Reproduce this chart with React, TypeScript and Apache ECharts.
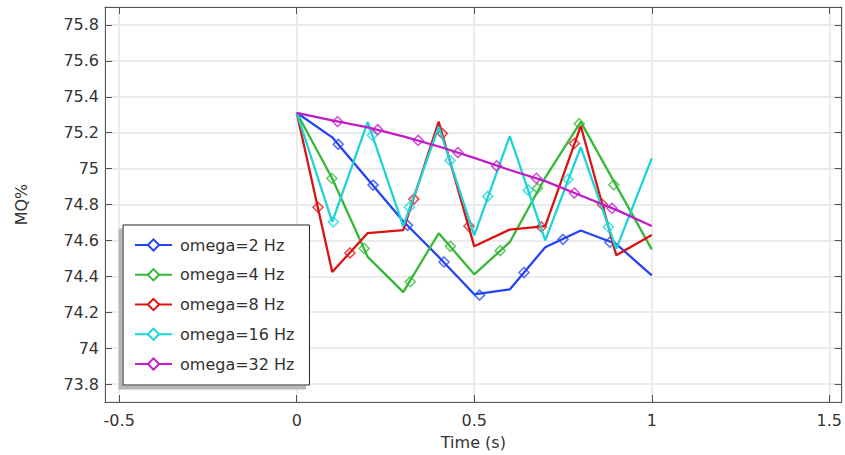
import React, { useEffect, useRef } from "react";
import * as echarts from "echarts";

const timeValues = [0, 0.1, 0.2, 0.3, 0.4, 0.5, 0.6, 0.7, 0.8, 0.9, 1.0];

const omega2Values = [75.311, 75.174, 74.94, 74.707, 74.508, 74.3, 74.327, 74.562, 74.655, 74.58, 74.405];
const omega4Values = [75.311, 74.945, 74.508, 74.312, 74.64, 74.411, 74.59, 74.95, 75.26, 74.905, 74.55];
const omega8Values = [75.311, 74.424, 74.641, 74.657, 75.261, 74.567, 74.66, 74.68, 75.237, 74.517, 74.63];
const omega16Values = [75.311, 74.703, 75.26, 74.68, 75.233, 74.628, 75.181, 74.6, 75.12, 74.553, 75.057];
const omega32Values = [75.311, 75.268, 75.23, 75.18, 75.123, 75.06, 74.992, 74.93, 74.85, 74.77, 74.68];

// marker positions (time, value)
const omega2Markers = [[0.117, 75.135], [0.215, 74.908], [0.312, 74.684], [0.415, 74.48], [0.515, 74.295], [0.64, 74.421], [0.75, 74.606], [0.882, 74.59]];
const omega4Markers = [[0.099, 74.945], [0.19, 74.555], [0.32, 74.37], [0.433, 74.567], [0.573, 74.543], [0.678, 74.89], [0.796, 75.25], [0.893, 74.91]];
const omega8Markers = [[0.06, 74.785], [0.15, 74.53], [0.33, 74.83], [0.41, 75.195], [0.485, 74.68], [0.689, 74.675], [0.782, 75.14], [0.861, 74.8]];
const omega16Markers = [[0.103, 74.703], [0.213, 75.186], [0.317, 74.785], [0.432, 75.045], [0.538, 74.845], [0.652, 74.88], [0.764, 74.94], [0.878, 74.675]];
const omega32Markers = [[0.115, 75.262], [0.228, 75.217], [0.342, 75.157], [0.454, 75.089], [0.563, 75.015], [0.675, 74.946], [0.782, 74.864], [0.888, 74.779]];

const seriesNames = ["omega=2 Hz", "omega=4 Hz", "omega=8 Hz", "omega=16 Hz", "omega=32 Hz"];
const seriesColors = ["#2444f4", "#36b836", "#dc1212", "#1cd4d8", "#c01cc8"];
const seriesValues = [omega2Values, omega4Values, omega8Values, omega16Values, omega32Values];
const seriesMarkers = [omega2Markers, omega4Markers, omega8Markers, omega16Markers, omega32Markers];

const xMin = -0.54;
const xMax = 1.535;
const yMin = 73.7;
const yMax = 75.9;

const FONT = "DejaVu Sans";
const TEXT = "#333333";
const AXIS = "#555555";
const GRID = "#ebebeb";

export default function App() {
  const ref = useRef<HTMLDivElement>(null);

  useEffect(() => {
    if (!ref.current) return;
    const chart = echarts.init(ref.current, undefined, { renderer: "svg" });

    const series: any[] = [];
    seriesNames.forEach((name, i) => {
      const c = seriesColors[i];
      series.push({
        name,
        type: "line",
        xAxisIndex: 0,
        yAxisIndex: 0,
        data: timeValues.map((t, k) => [t, seriesValues[i][k]]),
        showSymbol: false,
        symbol: "diamond",
        symbolSize: 10,
        lineStyle: { color: c, width: 2.3 },
        itemStyle: { color: "#ffffff", borderColor: c, borderWidth: 1.6 },
        emphasis: { disabled: true },
        z: 2 + i,
      });
      series.push({
        name: name + " markers",
        type: "scatter",
        xAxisIndex: 0,
        yAxisIndex: 0,
        data: seriesMarkers[i],
        symbol: "diamond",
        symbolSize: 10,
        itemStyle: { color: "rgba(255,255,255,0)", borderColor: c, borderWidth: 1.6, opacity: 0.75 },
        emphasis: { disabled: true },
        z: 2 + i,
      });
    });

    const xCommon = {
      type: "value",
      min: xMin,
      max: xMax,
      minInterval: 0.5,
      maxInterval: 0.5,
      axisLine: { show: true, onZero: false, lineStyle: { color: AXIS, width: 1 } },
      axisTick: { show: true, inside: true, length: 7, lineStyle: { color: AXIS } },
    };
    const yCommon = {
      type: "value",
      min: yMin,
      max: yMax,
      minInterval: 0.2,
      maxInterval: 0.2,
      axisLine: { show: true, onZero: false, lineStyle: { color: AXIS, width: 1 } },
      axisTick: { show: true, inside: true, length: 7, lineStyle: { color: AXIS } },
    };

    chart.setOption({
      animation: false,
      backgroundColor: "#ffffff",
      textStyle: { fontFamily: FONT },
      grid: { left: 105, top: 7, right: -3, bottom: 52, containLabel: false },
      xAxis: [
        {
          ...xCommon,
          position: "bottom",
          name: "Time (s)",
          nameLocation: "middle",
          nameGap: 32,
          nameTextStyle: { fontSize: 16, color: TEXT, fontFamily: FONT },
          axisLabel: { fontSize: 16, color: TEXT, fontFamily: FONT, margin: 10, showMinLabel: false, showMaxLabel: false },
          splitLine: { show: true, lineStyle: { color: GRID, width: 2 } },
        },
        {
          ...xCommon,
          position: "top",
          axisLabel: { show: false },
          splitLine: { show: false },
        },
      ],
      yAxis: [
        {
          ...yCommon,
          position: "left",
          name: "MQ%",
          nameLocation: "middle",
          nameGap: 76,
          nameRotate: 90,
          nameTextStyle: { fontSize: 16, color: TEXT, fontFamily: FONT },
          axisLabel: { fontSize: 16, color: TEXT, fontFamily: FONT, margin: 6, showMinLabel: false, showMaxLabel: false },
          splitLine: { show: true, lineStyle: { color: GRID, width: 2 } },
        },
        {
          ...yCommon,
          position: "right",
          axisLabel: { show: false },
          splitLine: { show: false },
        },
      ],
      legend: {
        data: seriesNames,
        orient: "vertical",
        left: 123,
        top: 225,
        padding: [12, 15, 13, 11],
        itemGap: 13.75,
        itemWidth: 37,
        itemHeight: 14,
        backgroundColor: "#ffffff",
        borderColor: "#222222",
        borderWidth: 1,
        shadowColor: "#b8b8b8",
        shadowBlur: 0,
        shadowOffsetX: -4,
        shadowOffsetY: 4,
        selectedMode: false,
        textStyle: { fontSize: 16, color: TEXT, fontFamily: FONT, lineHeight: 16, padding: [0, 0, 0, 3] },
      },
      series,
    });

    return () => {
      chart.dispose();
    };
  }, []);

  return (
    <div
      ref={ref}
      style={{ position: "fixed", left: 0, top: 0, width: 845, height: 455, background: "#ffffff" }}
    />
  );
}
